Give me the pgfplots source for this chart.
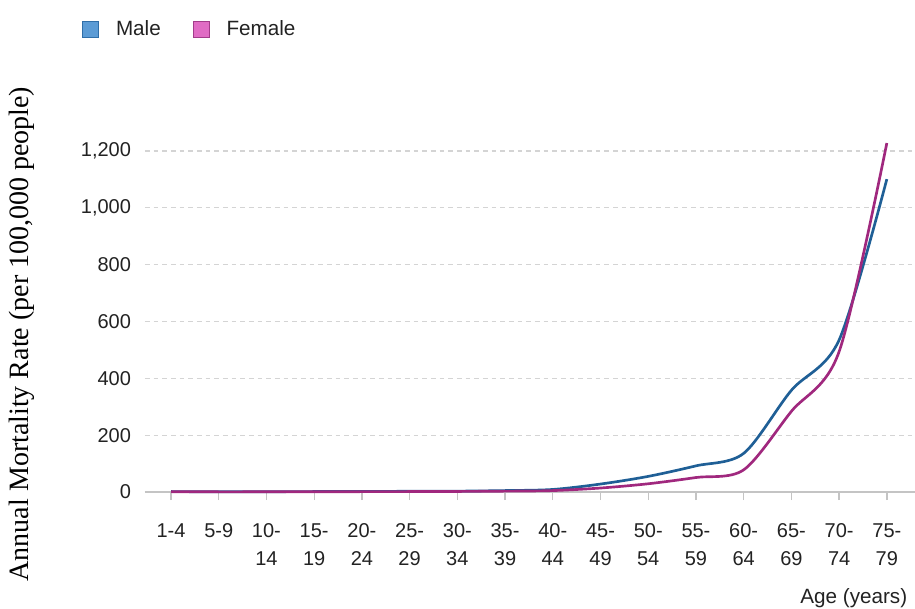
\documentclass[border=0pt]{standalone}
\usepackage{pgfplots}
\pgfplotsset{compat=1.18}
\usepackage{fontspec}
\setmainfont{Liberation Sans}
\newfontfamily\seriffont{Liberation Serif}

\definecolor{maleline}{HTML}{1F5F96}
\definecolor{femaleline}{HTML}{A0287E}
\definecolor{malefill}{HTML}{5B9BD5}
\definecolor{maleedge}{HTML}{2F6EA8}
\definecolor{femalefill}{HTML}{E06CC4}
\definecolor{femaleedge}{HTML}{A23C8A}
\definecolor{gridgray}{HTML}{D4D4D4}
\definecolor{axisgray}{HTML}{C4C4C4}
\definecolor{labelgray}{HTML}{222222}

\begin{document}
\begin{tikzpicture}
\useasboundingbox (-108.75pt,-87pt) rectangle (577.5pt,369pt);
\begin{axis}[
    at={(0pt,0pt)}, anchor=south west,
    scale only axis,
    width=577.5pt, height=255.75pt,
    xmin=-0.545, xmax=15.59,
    ymin=0, ymax=1200,
    clip=false,
    axis x line*=bottom,
    axis y line*=left,
    y axis line style={draw=none},
    x axis line style={draw=axisgray, line width=1pt, -},
    xtick={0,...,15},
    xticklabels={1-4,5-9,{10-\\14},{15-\\19},{20-\\24},{25-\\29},{30-\\34},{35-\\39},
        {40-\\44},{45-\\49},{50-\\54},{55-\\59},{60-\\64},{65-\\69},{70-\\74},{75-\\79}},
    ytick={0,200,...,1200},
    tick align=outside,
    xtick style={draw=axisgray, line width=1pt},
    ytick style={draw=none},
    major tick length=6pt,
    ymajorgrids,
    grid style={draw=gridgray, line width=0.9pt, dash pattern=on 3.5pt off 3pt},
    /pgf/number format/.cd, 1000 sep={,}, assume math mode=true,
    /pgfplots/.cd,
    tick label style={font=\fontsize{15}{21}\selectfont, text=labelgray},
    xticklabel style={align=center, yshift=-14pt},
    yticklabel style={xshift=-1pt},
    xlabel={Age (years)},
    xlabel style={at={(axis description cs:0.996,-0.311)}, anchor=east,
        font=\fontsize{15.5}{18}\selectfont, text=labelgray},
    ylabel={Annual Mortality Rate (per 100,000 people)},
    ylabel style={at={(axis description cs:-0.1597,0.4633)}, anchor=center,
        font=\seriffont\fontsize{21}{24}\selectfont, text=black},
    legend columns=2,
    legend style={at={(axis description cs:-0.0818,1.3578)}, anchor=west,
        draw=none, fill=none, inner sep=0pt,
        font=\fontsize{15.5}{18}\selectfont, text=labelgray,
        nodes={inner sep=0pt},
        /tikz/every odd column/.append style={column sep=12.5pt},
        /tikz/every even column/.append style={column sep=24pt}},
    legend image code/.code={\draw[#1, line width=0.8pt] (0pt,-6.6pt) rectangle (12pt,5.4pt);},
]
\addlegendimage{fill=malefill, draw=maleedge}
\addlegendentry{Male}
\addlegendimage{fill=femalefill, draw=femaleedge}
\addlegendentry{Female}

% Male
\addplot[maleline, line width=2pt, smooth, forget plot] coordinates {
    (0,1.5) (1,0.8) (2,1.0) (3,1.5) (4,2.0) (5,2.5) (6,3.0) (7,5.0)
    (8,9) (9,28) (10,55) (11,92) (12,136) (13,358) (14,535) (15,1101)
};
% Female
\addplot[femaleline, line width=2pt, smooth, forget plot] coordinates {
    (0,1.2) (1,0.6) (2,0.7) (3,1.0) (4,1.2) (5,1.5) (6,2.0) (7,3.0)
    (8,5) (9,14) (10,29) (11,51) (12,78) (13,284) (14,494) (15,1228)
};
\end{axis}
\end{tikzpicture}
\end{document}
